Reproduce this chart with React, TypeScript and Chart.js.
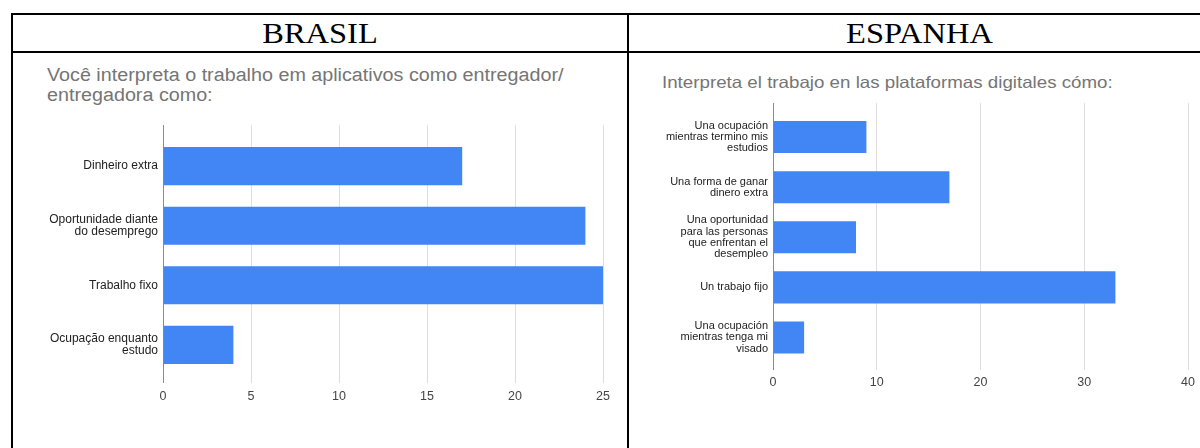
import React, { useEffect, useRef } from 'react';
import { Chart, registerables } from 'chart.js';

Chart.register(...registerables);

// ---------- data ----------
const brTitle = ['Você interpreta o trabalho em aplicativos como entregador/', 'entregadora como:'];
const brCategories: string[][] = [
  ['Dinheiro extra'],
  ['Oportunidade diante', 'do desemprego'],
  ['Trabalho fixo'],
  ['Ocupação enquanto', 'estudo'],
];
const brValues = [17, 24, 25, 4];
const brTicks = [0, 5, 10, 15, 20, 25];

const esTitle = 'Interpreta el trabajo en las plataformas digitales cómo:';
const esCategories: string[][] = [
  ['Una ocupación', 'mientras termino mis', 'estudios'],
  ['Una forma de ganar', 'dinero extra'],
  ['Una oportunidad', 'para las personas', 'que enfrentan el', 'desempleo'],
  ['Un trabajo fijo'],
  ['Una ocupación', 'mientras tenga mi', 'visado'],
];
const esValues = [9, 17, 8, 33, 3];
const esTicks = [0, 10, 20, 30, 40];

const FONT = "'Liberation Sans', Arial, sans-serif";
const SERIF = "'Liberation Serif', 'Times New Roman', serif";
const BAR = '#4285F4';

type Cfg = {
  categories: string[][];
  values: number[];
  ticks: number[];
  yWidth: number;
  yMin: number;
  yMax: number;
  labelSize: number;
  labelLine: string;
  pad: { left: number; right: number; top: number; bottom: number };
  xHeight: number;
  xPad: number;
};

function makeChart(canvas: HTMLCanvasElement, c: Cfg) {
  const n = c.categories.length;
  return new Chart(canvas, {
    type: 'bar',
    data: {
      datasets: [
        {
          data: c.values.map((v, i) => ({ x: v, y: i })),
          backgroundColor: BAR,
          borderWidth: 0,
          barPercentage: 0.64,
          categoryPercentage: 1,
        },
      ],
    },
    options: {
      indexAxis: 'y',
      animation: false,
      responsive: false,
      devicePixelRatio: 1,
      layout: { padding: c.pad },
      plugins: { legend: { display: false }, tooltip: { enabled: false }, title: { display: false } },
      scales: {
        x: {
          type: 'linear',
          position: 'bottom',
          offset: false,
          min: c.ticks[0],
          max: c.ticks[c.ticks.length - 1],
          afterBuildTicks: (s: any) => {
            s.ticks = c.ticks.map((v) => ({ value: v }));
          },
          afterFit: (s: any) => {
            s.height = c.xHeight;
          },
          grid: {
            offset: false,
            drawTicks: false,
            color: (ctx: any) => (ctx.tick && ctx.tick.value === 0 ? '#8c8c8c' : '#dedede'),
            lineWidth: 1,
          },
          border: { display: false },
          ticks: {
            padding: c.xPad,
            color: '#444444',
            font: { family: FONT, size: 12.5 },
            maxRotation: 0,
          },
        },
        y: {
          type: 'linear',
          reverse: true,
          offset: false,
          min: c.yMin,
          max: c.yMax,
          afterBuildTicks: (s: any) => {
            s.ticks = Array.from({ length: n }, (_, i) => ({ value: i }));
          },
          afterFit: (s: any) => {
            s.width = c.yWidth;
          },
          grid: { display: false, drawTicks: false, offset: false },
          border: { display: false },
          ticks: {
            padding: 5,
            color: '#222222',
            font: { family: FONT, size: c.labelSize, lineHeight: c.labelLine },
            callback: (v: any) => c.categories[v as number] ?? '',
          },
        },
      },
    },
  } as any);
}

function BarChart({ cfg, left, top, width, height }: { cfg: Cfg; left: number; top: number; width: number; height: number }) {
  const ref = useRef<HTMLCanvasElement>(null);
  useEffect(() => {
    if (!ref.current) return;
    const ch = makeChart(ref.current, cfg);
    return () => ch.destroy();
  }, []);
  return (
    <canvas
      ref={ref}
      width={width}
      height={height}
      style={{ position: 'absolute', left, top, width, height }}
    />
  );
}

const line = (s: React.CSSProperties) => <div style={{ position: 'absolute', background: '#000', ...s }} />;

const headerStyle = (left: number, width: number): React.CSSProperties => ({
  position: 'absolute',
  left,
  width,
  top: 15,
  height: 36,
  lineHeight: '36px',
  textAlign: 'center',
  fontFamily: SERIF,
  fontSize: 29,
  color: '#000',
  transform: 'scaleX(1.12)',
  transformOrigin: 'center',
});

export default function App() {
  const brCfg: Cfg = {
    categories: brCategories,
    values: brValues,
    ticks: brTicks,
    yWidth: 149,
    yMin: -0.69,
    yMax: 3.64,
    labelSize: 12,
    labelLine: '11.8px',
    pad: { left: 0, right: 23, top: 71, bottom: 35 },
    xHeight: 30,
    xPad: 6,
  };
  const esCfg: Cfg = {
    categories: esCategories,
    values: esValues,
    ticks: esTicks,
    yWidth: 144,
    yMin: -0.68,
    yMax: 4.65,
    labelSize: 11,
    labelLine: '11.3px',
    pad: { left: 0, right: 7, top: 49, bottom: 48 },
    xHeight: 30,
    xPad: 5,
  };
  return (
    <div
      style={{
        position: 'absolute',
        left: 0,
        top: 0,
        width: 1200,
        height: 448,
        overflow: 'hidden',
        background: '#ffffff',
      }}
    >
      {line({ left: 11, top: 13, width: 1189, height: 2 })}
      {line({ left: 11, top: 51, width: 1189, height: 2 })}
      {line({ left: 11, top: 13, width: 2, height: 435 })}
      {line({ left: 627, top: 13, width: 2, height: 435 })}

      <div style={headerStyle(13, 614)}>BRASIL</div>
      <div style={headerStyle(629, 581)}>ESPANHA</div>

      <div
        style={{
          position: 'absolute',
          left: 47,
          top: 65,
          fontFamily: FONT,
          fontSize: 18,
          lineHeight: '20px',
          color: '#757575',
          whiteSpace: 'nowrap',
          transform: 'scaleX(1.096)',
          transformOrigin: 'left top',
        }}
      >
        {brTitle[0]}
        <br />
        {brTitle[1]}
      </div>
      <div
        style={{
          position: 'absolute',
          left: 662,
          top: 72,
          fontFamily: FONT,
          fontSize: 16.5,
          lineHeight: '20px',
          color: '#757575',
          whiteSpace: 'nowrap',
          transform: 'scaleX(1.135)',
          transformOrigin: 'left top',
        }}
      >
        {esTitle}
      </div>

      <BarChart cfg={brCfg} left={14} top={54} width={612} height={394} />
      <BarChart cfg={esCfg} left={629} top={54} width={571} height={394} />
    </div>
  );
}
